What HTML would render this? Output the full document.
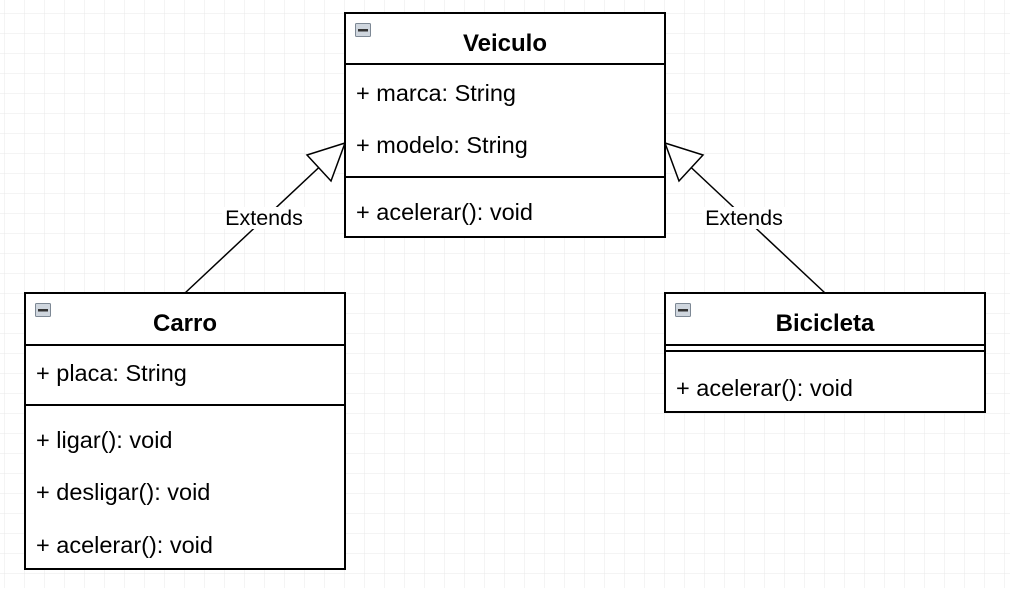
<!DOCTYPE html>
<html><head><meta charset="utf-8"><style>
body{margin:0;width:1010px;height:588px;overflow:hidden;background:#fff;font-family:"Liberation Sans",sans-serif}
</style></head><body>
<svg width="1010" height="588" xmlns="http://www.w3.org/2000/svg" font-family="Liberation Sans, sans-serif">
<defs>
<pattern id="g" x="4" y="13" width="20" height="20" patternUnits="userSpaceOnUse">
<path d="M0 0H20M0 0V20" stroke="#e8e8e8" stroke-width="1" fill="none"/>
</pattern>
</defs>
<rect width="1010" height="588" fill="url(#g)"/>
<line x1="185" y1="293" x2="345" y2="143" stroke="#000" stroke-width="1.5"/>
<polygon points="345,143 307,155 331,181" fill="#fff" stroke="#000" stroke-width="1.5"/>
<line x1="825" y1="293" x2="665" y2="143" stroke="#000" stroke-width="1.5"/>
<polygon points="665,143 703,155 679,181" fill="#fff" stroke="#000" stroke-width="1.5"/>
<rect x="222" y="207" width="84" height="22" fill="#fff"/>
<text x="264" y="225" font-size="21.5" text-anchor="middle">Extends</text>
<rect x="702" y="207" width="84" height="22" fill="#fff"/>
<text x="744" y="225" font-size="21.5" text-anchor="middle">Extends</text>
<g stroke="#000" stroke-width="2" fill="#fff">
<rect x="345" y="13" width="320" height="224"/>
<line x1="345" y1="64" x2="665" y2="64"/>
<line x1="345" y1="177" x2="665" y2="177"/>
<rect x="25" y="293" width="320" height="276"/>
<line x1="25" y1="345" x2="345" y2="345"/>
<line x1="25" y1="405" x2="345" y2="405"/>
<rect x="665" y="293" width="320" height="119"/>
<line x1="665" y1="345" x2="985" y2="345"/>
<line x1="665" y1="351" x2="985" y2="351"/>
</g>
<g fill="#cfd6de" stroke="#7d8894" stroke-width="1">
<rect x="355.5" y="23.5" width="15" height="13" rx="1"/>
<rect x="35.5" y="303.5" width="15" height="13" rx="1"/>
<rect x="675.5" y="303.5" width="15" height="13" rx="1"/>
</g>
<g fill="#333"><rect x="358" y="29" width="10" height="2.5"/><rect x="38" y="309" width="10" height="2.5"/><rect x="678" y="309" width="10" height="2.5"/></g>
<g font-size="24" font-weight="bold" text-anchor="middle">
<text x="505" y="51">Veiculo</text>
<text x="185" y="331">Carro</text>
<text x="825" y="331">Bicicleta</text>
</g>
<g font-size="23.5">
<text x="356" y="101">+ marca: String</text>
<text x="356" y="153">+ modelo: String</text>
<text x="356" y="220">+ acelerar(): void</text>
<text x="36" y="381">+ placa: String</text>
<text x="36" y="448">+ ligar(): void</text>
<text x="36" y="500">+ desligar(): void</text>
<text x="36" y="553">+ acelerar(): void</text>
<text x="676" y="396">+ acelerar(): void</text>
</g>
</svg>
</body></html>
